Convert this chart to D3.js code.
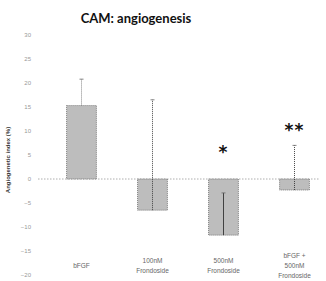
<!DOCTYPE html>
<html>
<head>
<meta charset="utf-8">
<script src="https://cdn.jsdelivr.net/npm/d3@7"></script>
<style>
body { margin: 0; background: #fff; }
svg { display: block; }
</style>
</head>
<body>
<script>
// chart data
var categories = [["bFGF"], ["100nM", "Frondoside"], ["500nM", "Frondoside"], ["bFGF +", "500nM", "Frondoside"]];
var means = [15.3, -6.5, -11.7, -2.3];
var errTop = [20.8, 16.5, -2.9, 7.0];   // where the drawn error bar ends
var marks = ["", "", "*", "**"];
var markAt = [0, 0, 6.5, 11];           // height of the significance marks
var yTicks = [30, 25, 20, 15, 10, 5, 0, -5, -10, -15, -20];

var w = 326, h = 281;
var svg = d3.select("body").append("svg").attr("width", w).attr("height", h);

var y = d3.scaleLinear().domain([-20, 30]).range([275, 35]);
var x = d3.scaleBand().domain(d3.range(categories.length)).range([46, 330]);
var bw = x.bandwidth() * 0.42;

// title
svg.append("text")
    .attr("x", 136).attr("y", 23)
    .attr("text-anchor", "middle")
    .style("font-family", "Lato, 'Open Sans', sans-serif")
    .style("font-weight", "bold")
    .style("font-size", "13px")
    .attr("fill", "#111")
    .text("CAM: angiogenesis");

// y axis tick labels (no axis line)
svg.append("g")
    .attr("transform", "translate(34,0)")
    .call(d3.axisLeft(y).tickValues(yTicks).tickSize(0).tickFormat(d3.format("d")))
    .call(function (g) { g.select(".domain").remove(); })
    .selectAll("text")
    .attr("fill", "#999")
    .style("font-family", "'Liberation Sans', sans-serif")
    .style("font-size", "6px");

svg.append("text")
    .attr("transform", "translate(10,160) rotate(-90)")
    .attr("text-anchor", "middle")
    .style("font-family", "'Liberation Sans', sans-serif")
    .style("font-size", "6px")
    .style("font-weight", "bold")
    .attr("fill", "#333")
    .text("Angiogenetic index (%)");

// zero line
svg.append("line")
    .attr("x1", 38).attr("x2", 320)
    .attr("y1", y(0)).attr("y2", y(0))
    .attr("stroke", "#999")
    .attr("stroke-width", 0.8)
    .attr("stroke-dasharray", "1.5,1.5");

// bars
svg.selectAll("rect.bar")
    .data(means).enter()
    .append("rect")
    .attr("class", "bar")
    .attr("x", function (d, i) { return x(i) + (x.bandwidth() - bw) / 2; })
    .attr("y", function (d) { return y(Math.max(0, d)); })
    .attr("width", bw)
    .attr("height", function (d) { return Math.abs(y(d) - y(0)); })
    .attr("fill", "#bdbdbd")
    .attr("stroke", "#555")
    .attr("stroke-width", 0.7)
    .attr("stroke-dasharray", "1,1");

// error bars
var eb = svg.selectAll("g.err").data(means).enter().append("g")
    .attr("transform", function (d, i) { return "translate(" + (x(i) + x.bandwidth() / 2) + ",0)"; });
eb.append("line")
    .attr("y1", function (d) { return y(d); })
    .attr("y2", function (d, i) { return y(errTop[i]); })
    .attr("stroke", function (d, i) { return errTop[i] < 0 || d < 0 ? "#333" : "#777"; })
    .attr("stroke-width", 0.9)
    .attr("stroke-dasharray", function (d, i) { return d < 0 && errTop[i] < 0 ? null : "1,1"; });
eb.append("line")
    .attr("x1", -2).attr("x2", 2)
    .attr("y1", function (d, i) { return y(errTop[i]); })
    .attr("y2", function (d, i) { return y(errTop[i]); })
    .attr("stroke", "#666")
    .attr("stroke-width", 0.8);

// significance stars
svg.selectAll("text.sig")
    .data(marks).enter()
    .append("text")
    .attr("class", "sig")
    .attr("x", function (d, i) { return x(i) + x.bandwidth() / 2; })
    .attr("y", function (d, i) { return y(markAt[i]) + 10; })
    .attr("text-anchor", "middle")
    .style("font-family", "'DejaVu Sans', sans-serif")
    .style("font-weight", "bold")
    .style("font-size", "17px")
    .style("letter-spacing", "1px")
    .attr("fill", "#111")
    .text(function (d) { return d; });

// category labels
var cl = svg.selectAll("text.cat")
    .data(categories).enter()
    .append("text")
    .attr("class", "cat")
    .attr("text-anchor", "middle")
    .style("font-family", "'Liberation Sans', sans-serif")
    .style("font-size", "6.5px")
    .attr("fill", "#666");
cl.selectAll("tspan")
    .data(function (d, i) { return d.map(function (s, k) { return { s: s, k: k, n: d.length, i: i }; }); })
    .enter().append("tspan")
    .attr("x", function (d) { return x(d.i) + x.bandwidth() / 2; })
    .attr("y", function (d) { return 268 + (d.k - (d.n - 1) / 2) * 10; })
    .text(function (d) { return d.s; });
</script>
</body>
</html>
